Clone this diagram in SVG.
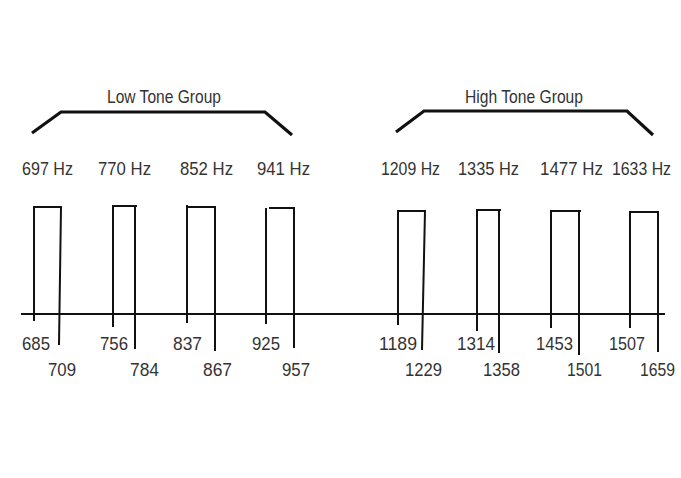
<svg xmlns="http://www.w3.org/2000/svg" width="681" height="478" viewBox="0 0 681 478">
<style>
.t{font-family:"Liberation Sans","DejaVu Sans",sans-serif;font-size:19px;fill:#333}
.p{fill:none;stroke:#111;stroke-width:2;stroke-linejoin:miter}
.b{fill:none;stroke:#111;stroke-width:3.2;stroke-linejoin:miter}
</style>
<rect width="681" height="478" fill="#fff"/>
<g id="low-group">
<path class="b" d="M32,133 L61,112 L265,112 L292,135"/>
<text class="t" x="107" y="103" textLength="114" lengthAdjust="spacingAndGlyphs">Low Tone Group</text>
</g>
<g id="high-group">
<path class="b" d="M396,132 L424,111 L627,111 L653,135"/>
<text class="t" x="465" y="103" textLength="118" lengthAdjust="spacingAndGlyphs">High Tone Group</text>
</g>
<g id="freq-labels">
<text class="t" x="22" y="175" textLength="51" lengthAdjust="spacingAndGlyphs">697 Hz</text>
<text class="t" x="98" y="175" textLength="53" lengthAdjust="spacingAndGlyphs">770 Hz</text>
<text class="t" x="180" y="175" textLength="53" lengthAdjust="spacingAndGlyphs">852 Hz</text>
<text class="t" x="257" y="175" textLength="53" lengthAdjust="spacingAndGlyphs">941 Hz</text>
<text class="t" x="381" y="175" textLength="59" lengthAdjust="spacingAndGlyphs">1209 Hz</text>
<text class="t" x="458" y="175" textLength="61" lengthAdjust="spacingAndGlyphs">1335 Hz</text>
<text class="t" x="540" y="175" textLength="63" lengthAdjust="spacingAndGlyphs">1477 Hz</text>
<text class="t" x="612" y="175" style="font-size:18px" textLength="59" lengthAdjust="spacingAndGlyphs">1633 Hz</text>
</g>
<g id="axis">
<line x1="21" y1="314" x2="665" y2="314" stroke="#111" stroke-width="2"/>
</g>
<g id="pulse-697">
<path class="p" d="M34,321 L34,207 L61,207 L59,345"/>
<text class="t" x="22" y="350" textLength="28" lengthAdjust="spacingAndGlyphs">685</text>
<text class="t" x="48" y="376" textLength="28" lengthAdjust="spacingAndGlyphs">709</text>
</g>
<g id="pulse-770">
<path class="p" d="M113,327 L113,206 L137,206 M135,206 L135,349"/>
<text class="t" x="100" y="350" textLength="28" lengthAdjust="spacingAndGlyphs">756</text>
<text class="t" x="130" y="376" textLength="29" lengthAdjust="spacingAndGlyphs">784</text>
</g>
<g id="pulse-852">
<path class="p" d="M187,323 L187,205 M187,207 L215,207 L215,351"/>
<text class="t" x="173" y="350" textLength="29" lengthAdjust="spacingAndGlyphs">837</text>
<text class="t" x="203" y="376" textLength="29" lengthAdjust="spacingAndGlyphs">867</text>
</g>
<g id="pulse-941">
<path class="p" d="M266,324 L266,208 M269,208 L294,208 L294,348"/>
<text class="t" x="252" y="350" textLength="28" lengthAdjust="spacingAndGlyphs">925</text>
<text class="t" x="282" y="376" textLength="28" lengthAdjust="spacingAndGlyphs">957</text>
</g>
<g id="pulse-1209">
<path class="p" d="M398,325 L398,211 L425,211 L422,350"/>
<text class="t" x="379" y="350" textLength="38" lengthAdjust="spacingAndGlyphs">1189</text>
<text class="t" x="405" y="376" textLength="37" lengthAdjust="spacingAndGlyphs">1229</text>
</g>
<g id="pulse-1335">
<path class="p" d="M477,331 L477,210 L501,210 M499,210 L499,353"/>
<text class="t" x="457" y="350" textLength="38" lengthAdjust="spacingAndGlyphs">1314</text>
<text class="t" x="483" y="376" textLength="37" lengthAdjust="spacingAndGlyphs">1358</text>
</g>
<g id="pulse-1477">
<path class="p" d="M551,328 L551,211 L581,211 M579,211 L579,355"/>
<text class="t" x="536" y="350" textLength="37" lengthAdjust="spacingAndGlyphs">1453</text>
<text class="t" x="567" y="376" textLength="35" lengthAdjust="spacingAndGlyphs">1501</text>
</g>
<g id="pulse-1633">
<path class="p" d="M630,328 L630,212 L658,212 L658,352"/>
<text class="t" x="609" y="350" textLength="36" lengthAdjust="spacingAndGlyphs">1507</text>
<text class="t" x="640" y="376" textLength="35" lengthAdjust="spacingAndGlyphs">1659</text>
</g>
</svg>
